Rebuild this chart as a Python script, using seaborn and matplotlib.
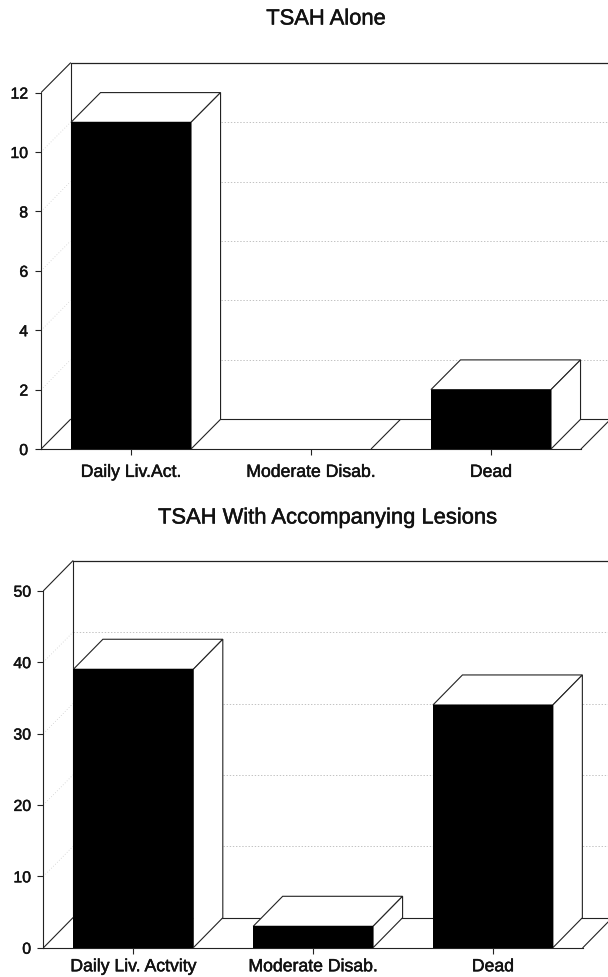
import matplotlib
matplotlib.use("Agg")
import matplotlib.pyplot as plt
import matplotlib.patheffects as pe
import seaborn as sns

top_title = "TSAH Alone"
top_cats = ["Daily Liv.Act.", "Moderate Disab.", "Dead"]
top_vals = [11, 0, 2]
top_ticks = [0, 2, 4, 6, 8, 10, 12]

low_title = "TSAH With Accompanying Lesions"
low_cats = ["Daily Liv. Actvity", "Moderate Disab.", "Dead"]
low_vals = [39, 3, 34]
low_ticks = [0, 10, 20, 30, 40, 50]

W, H = 608, 977
sns.set_style("white")
plt.rcParams["font.family"] = ["Liberation Sans", "DejaVu Sans"]
fig = plt.figure(figsize=(W / 100, H / 100), dpi=100)
heavy = [pe.withStroke(linewidth=0.35, foreground="#111111")]


def panel(box, title, title_xy, cats, vals, ticks, xlim, ylim, dx, dy, xpad):
    l, t, r, b = box
    ax = fig.add_axes([l / W, 1 - b / H, (r - l) / W, (b - t) / H])
    width = 0.667
    sns.barplot(x=cats, y=vals, color="black", saturation=1, width=width, ax=ax,
                zorder=4, linewidth=0)
    ax.set_xlim(*xlim)
    ax.set_ylim(*ylim)
    ax.set_yticks(ticks)
    ax.set_xticks(range(len(cats)))
    ax.set_xticklabels(cats)
    ax.tick_params(axis="both", length=4.4, width=0.8, color="#222222",
                   labelcolor="#111111", bottom=True, left=True)
    ax.tick_params(axis="y", labelsize=11.4, pad=4.5)
    ax.tick_params(axis="x", labelsize=12.7, pad=xpad)
    for lab in ax.get_xticklabels() + ax.get_yticklabels():
        lab.set_path_effects(heavy)
    for s in ("top", "right"):
        ax.spines[s].set_visible(False)
    ax.spines["left"].set_bounds(0, ticks[-1])
    ax.spines["bottom"].set_bounds(-0.5, 2.5)
    for s in ("left", "bottom"):
        ax.spines[s].set_linewidth(0.8)
        ax.spines[s].set_color("#222222")

    lc = "#222222"
    x0, xe = -0.5, 2.5
    # walls and floor
    ax.plot([x0, x0 + dx], [ticks[-1], ticks[-1] + dy], color=lc, lw=0.8, zorder=2)
    ax.plot([x0 + dx, x0 + dx], [dy, ticks[-1] + dy], color=lc, lw=0.8, zorder=2)
    ax.plot([x0 + dx, xlim[1]], [ticks[-1] + dy] * 2, color=lc, lw=0.9, zorder=2)
    ax.plot([x0 + dx, xlim[1]], [dy, dy], color=lc, lw=0.8, zorder=2)
    ax.plot([x0, x0 + dx], [0, dy], color=lc, lw=0.8, zorder=2)
    ax.plot([xe, xe + dx], [0, dy], color=lc, lw=0.8, zorder=2)
    # dotted gridlines on back and side walls
    for v in ticks[1:-1]:
        ax.plot([x0 + dx, xlim[1]], [v + dy, v + dy], color="#aaaaaa", lw=0.5,
                ls=(0, (2, 2.5)), zorder=1)
        ax.plot([x0, x0 + dx], [v, v + dy], color="#bbbbbb", lw=0.5,
                ls=(0, (1, 3)), zorder=1)
    # depth faces of each bar
    for i, v in enumerate(vals):
        a, c = i - width / 2, i + width / 2
        if v > 0:
            ax.fill([a, a + dx, c + dx, c], [v, v + dy, v + dy, v],
                    facecolor="white", edgecolor=lc, lw=0.8, zorder=3)
        ax.fill([c, c + dx, c + dx, c], [0, dy, v + dy, v],
                facecolor="white", edgecolor=lc, lw=0.8, zorder=3)
    fig.text(title_xy[0] / W, 1 - title_xy[1] / H, title, ha="center", va="center",
             fontsize=15.8, color="#111111", path_effects=heavy)
    return ax


panel((40.5, 62, 608, 449), top_title, (326, 19), top_cats, top_vals, top_ticks,
      (-0.503, 2.65), (0, 13.03), 29.5 / 180, 1.0, 6.3)
panel((43.5, 560, 608, 947.7), low_title, (327.5, 518), low_cats, low_vals, low_ticks,
      (-0.5, 2.64), (0, 54.3), 29.5 / 180, 4.2, 3.2)

fig.savefig("out.png", dpi=100, facecolor="white")
